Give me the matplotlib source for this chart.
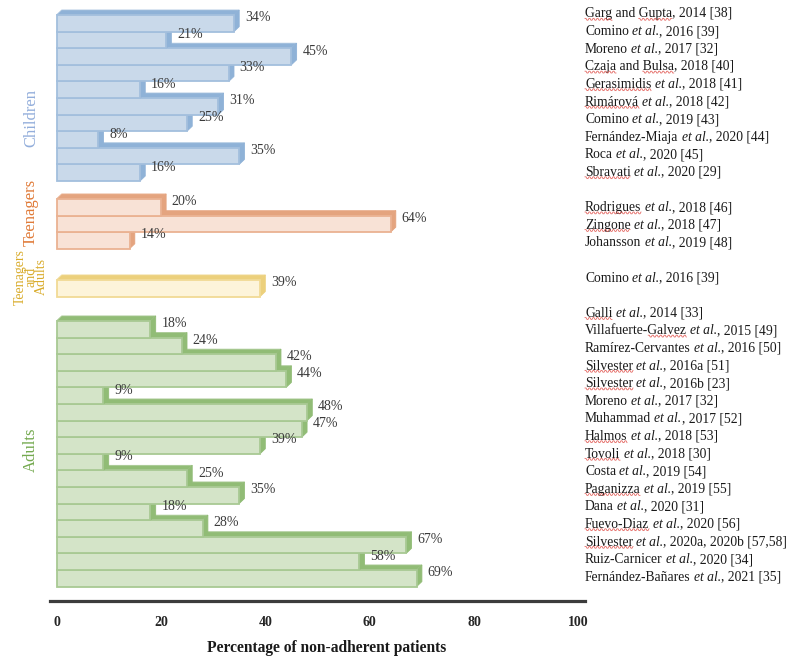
import re
import numpy as np
import matplotlib
matplotlib.use('Agg')
import matplotlib.pyplot as plt
from matplotlib.lines import Line2D
from matplotlib.transforms import IdentityTransform

plt.rcParams['font.family'] = ['Liberation Serif', 'DejaVu Serif']

# ---------------- data ----------------
group_names = ['Children', 'Teenagers', 'Teenagers\nand\nAdults', 'Adults']

children_vals = [34, 21, 45, 33, 16, 31, 25, 8, 35, 16]
teen_vals = [20, 64, 14]
teen_adult_vals = [39]
adult_vals = [18, 24, 42, 44, 9, 48, 47, 39, 9, 25, 35, 18, 28, 67, 58, 69]

# _word_ = word carrying the red spell-check squiggle in the reference
children_refs = ['_Garg_ and _Gupta_, 2014 [38]', 'Comino et al., 2016 [39]',
                 'Moreno et al., 2017 [32]', '_Czaja_ and _Bulsa_, 2018 [40]',
                 '_Gerasimidis_ et al., 2018 [41]', '_Rimárová_ et al., 2018 [42]',
                 'Comino et al., 2019 [43]', 'Fernández-Miaja et al., 2020 [44]',
                 'Roca et al., 2020 [45]', '_Sbravati_ et al., 2020 [29]']
teen_refs = ['_Rodrigues_ et al., 2018 [46]', '_Zingone_ et al., 2018 [47]',
             'Johansson et al., 2019 [48]']
teen_adult_refs = ['Comino et al., 2016 [39]']
adult_refs = ['_Galli_ et al., 2014 [33]', 'Villafuerte-_Galvez_ et al., 2015 [49]',
              'Ramírez-Cervantes et al., 2016 [50]', '_Silvester_ et al., 2016a [51]',
              '_Silvester_ et al., 2016b [23]', 'Moreno et al., 2017 [32]',
              'Muhammad et al., 2017 [52]', '_Halmos_ et al., 2018 [53]',
              '_Tovoli_ et al., 2018 [30]', 'Costa et al., 2019 [54]',
              '_Paganizza_ et al., 2019 [55]', 'Dana et al., 2020 [31]',
              '_Fuevo-Diaz_ et al., 2020 [56]', '_Silvester_ et al., 2020a, 2020b [57,58]',
              'Ruiz-Carnicer et al., 2020 [34]', 'Fernández-Bañares et al., 2021 [35]']

x_ticks = [0, 20, 40, 60, 80, 100]
x_label = 'Percentage of non-adherent patients'

# ---------------- style ----------------
group_vals = [children_vals, teen_vals, teen_adult_vals, adult_vals]
group_refs = [children_refs, teen_refs, teen_adult_refs, adult_refs]
front_cols = ['#c9d9ea', '#f8e2d6', '#fdf4da', '#d4e4c8']
edge_cols = ['#a3bfdd', '#eab292', '#f1da95', '#a8c993']
depth_cols = ['#8fb2d7', '#e4a47f', '#ecd07c', '#91bc76']
text_cols = ['#93aedb', '#e07b39', '#d9ac2c', '#74a94f']
group_gaps = [0.0, 1.08, 1.88, 1.47]          # spacing (rows) before each group
group_label_y = [6.2, 11.87, 15.78, 26.2]      # label centre, rows
group_label_size = [12, 12, 10, 12]

dx = 1.0    # depth in x (data units)
dy = 0.3    # depth in y (rows)

fig = plt.figure(figsize=(7.9, 6.57), dpi=100)
W, H = 790, 657
ax = fig.add_axes([50 / W, (H - 601) / H, 535 / W, 601 / H])
px_per_unit = 5.22
x0_px = 56.5
ax.set_xlim((50 - x0_px) / px_per_unit, (585 - x0_px) / px_per_unit)
row_px = 16.6
ax.set_ylim((601 - 15) / row_px, -15 / row_px)

z = 1000
row = 0.0
for g, vals in enumerate(group_vals):
    row += group_gaps[g]
    for i, v in enumerate(vals):
        top = row
        bot = row + 1
        zz = z - row * 3
        ax.fill([0, dx, v + dx, v], [top, top - dy, top - dy, top],
                facecolor=depth_cols[g], edgecolor=edge_cols[g], lw=0.6, zorder=zz)
        ax.fill([v, v + dx, v + dx, v], [top, top - dy, bot - dy, bot],
                facecolor=depth_cols[g], edgecolor=depth_cols[g], lw=0.6, zorder=zz)
        ax.barh(top, v, height=1, align='edge', color=front_cols[g],
                edgecolor=edge_cols[g], linewidth=1.3, zorder=zz + 1)
        ax.text(v + 2.1, top + 0.5 - 0.33, f'{v}%', ha='left', va='center',
                fontsize=10, color='#3a3a3a', zorder=5000)
        row += 1
    ax.text(-4.9, group_label_y[g], group_names[g], rotation=90, ha='center',
            va='center', multialignment='center', fontsize=group_label_size[g],
            color=text_cols[g], linespacing=0.78, clip_on=False)

for s in ['top', 'right', 'left']:
    ax.spines[s].set_visible(False)
ax.spines['bottom'].set_linewidth(2.3)
ax.spines['bottom'].set_color('#3c3c3c')
ax.set_yticks([])
ax.set_xticks(x_ticks)
ax.set_xticklabels([str(t) for t in x_ticks], fontweight='bold', fontsize=10,
                   color='#262626')
ax.tick_params(axis='x', length=0, pad=11)
ax.set_xlabel(x_label, fontweight='bold', fontsize=11.2, color='#1a1a1a')
ax.xaxis.set_label_coords((327 - 50) / 535, -(640 - 601) / 601)
ax.patch.set_alpha(0)

# ---------------- reference column ----------------
ax2 = fig.add_axes([0, 0, 1, 1])
ax2.axis('off')
ax2.set_xlim(0, 1)
lab_px = 17.6
ax2.set_ylim((H - 14) / lab_px, -14 / lab_px)
ref_fs = 9.8
space_pt = ref_fs * 0.23


def pieces(ref):
    """Split into (text, italic, [underlined words]) runs of one font style."""
    out = []
    for p in re.split(r'(et al\.)', ref):
        if not p:
            continue
        italic = p == 'et al.'
        under = re.findall(r'_([^_]+)_', p)
        out.append((p.replace('_', ''), italic, under))
    return out


squiggles = []   # (text artist, visible text, word)
line = 0
for g, refs in enumerate(group_refs):
    if g > 0:
        line += 1
    for r in refs:
        prev = None
        pending_space = 0
        for text, italic, under in pieces(r):
            body = text.strip(' ')
            lead = len(text) - len(text.lstrip(' '))
            trail = len(text) - len(text.rstrip(' '))
            pending_space += lead
            kw = dict(fontsize=ref_fs, color='#1a1a1a',
                      fontstyle='italic' if italic else 'normal')
            if prev is None:
                t = ax2.text(585 / W, line, body, ha='left', va='center', **kw)
            else:
                t = ax2.annotate(body, xy=(1, 0), xycoords=prev,
                                 xytext=(pending_space * space_pt, 0),
                                 textcoords='offset points',
                                 ha='left', va='bottom', **kw)
            for w in under:
                squiggles.append((t, body, w))
            prev = t
            pending_space = trail
        line += 1

fig.canvas.draw()
renderer = fig.canvas.get_renderer()
for t, body, w in squiggles:
    bb = t.get_window_extent(renderer)
    fp = t.get_fontproperties()
    end_idx = body.index(w) + len(w)
    w_end, _, _ = renderer.get_text_width_height_descent(body[:end_idx], fp, ismath=False)
    w_word, _, _ = renderer.get_text_width_height_descent(w, fp, ismath=False)
    x1 = bb.x0 + w_end
    x0 = x1 - w_word
    xs = np.arange(x0, x1 + 0.1, 1.0)
    ys = bb.y0 + 1.2 + 0.9 * np.where(np.arange(len(xs)) % 4 < 2, 1, -1)
    fig.add_artist(Line2D(xs, ys, transform=IdentityTransform(),
                          color='#e0504a', lw=0.6, alpha=0.85))

fig.savefig('out.png', dpi=100)
